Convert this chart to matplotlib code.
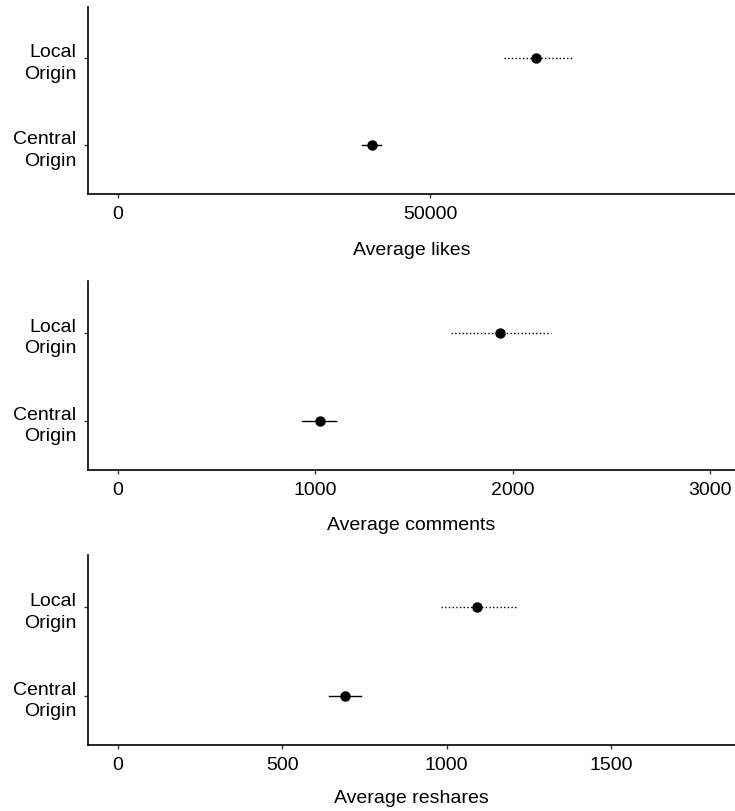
import matplotlib.pyplot as plt

plt.rcParams['font.family'] = ['Liberation Sans', 'DejaVu Sans']

groups = ['Central\nOrigin', 'Local\nOrigin']

likes_mean = [40600, 66900]
likes_low = [39100, 61800]
likes_high = [42100, 72700]

comments_mean = [1023, 1936]
comments_low = [934, 1688]
comments_high = [1105, 2195]

reshares_mean = [692, 1093]
reshares_low = [643, 982]
reshares_high = [739, 1213]

panels = [
    ('Average likes', likes_mean, likes_low, likes_high, [0, 50000], (-4800, 98800), 14),
    ('Average comments', comments_mean, comments_low, comments_high, [0, 1000, 2000, 3000], (-152, 3127), 13),
    ('Average reshares', reshares_mean, reshares_low, reshares_high, [0, 500, 1000, 1500], (-91, 1877), 11.5),
]

fig = plt.figure(figsize=(7.35, 8.12), dpi=100)
rects = [
    [0.1197, 0.760, 0.8803, 0.230],
    [0.1197, 0.420, 0.8803, 0.233],
    [0.1197, 0.081, 0.8803, 0.234],
]

for rect, (title, mean, low, high, ticks, xlim, lpad) in zip(rects, panels):
    ax = fig.add_axes(rect)
    for i, style in enumerate(['-', ':']):
        pos = i + 1
        ax.plot([low[i], high[i]], [pos, pos], color='black', linestyle=style, linewidth=1.0)
        ax.plot(mean[i], pos, 'o', color='black', markersize=6.5)
    ax.set_xlim(*xlim)
    ax.set_ylim(0.44, 2.59)
    ax.set_xticks(ticks)
    ax.set_xticklabels([str(t) for t in ticks])
    ax.set_yticks([1, 2])
    ax.set_yticklabels(groups, ha='right', linespacing=1.35)
    ax.set_xlabel(title, fontsize=14, labelpad=lpad)
    ax.tick_params(labelsize=14, length=3, width=1, color='#333333')
    ax.tick_params(axis='x', pad=5)
    ax.tick_params(axis='y', pad=5.5)
    for side in ['top', 'right']:
        ax.spines[side].set_visible(False)
    for side in ['left', 'bottom']:
        ax.spines[side].set_linewidth(1.2)

fig.savefig('out.png', dpi=100)
